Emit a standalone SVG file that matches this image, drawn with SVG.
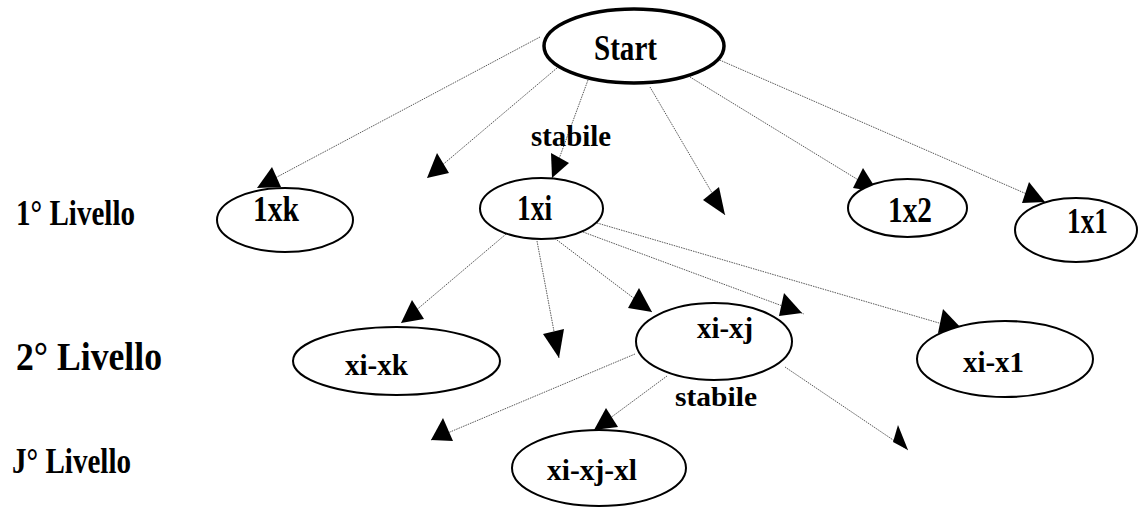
<svg xmlns="http://www.w3.org/2000/svg" width="1138" height="510" viewBox="0 0 1138 510" font-family="'Liberation Serif', 'Times New Roman', Times, serif">
<style>
.node{fill:#fff;stroke:#000;stroke-width:2}
.start{fill:#fff;stroke:#000;stroke-width:3.5}
.edge{stroke:#444;stroke-width:0.9;stroke-dasharray:1.5 1;fill:none}
.ah{fill:#000;stroke:none}
text{font-weight:bold;fill:#000}
.lbl{font-size:35px}
.lbl2{font-size:29px}
</style>
<rect width="1138" height="510" fill="#fff"/>
<g id="connectors">
<line class="edge" x1="540" y1="37" x2="262" y2="185"/>
<line class="edge" x1="557" y1="68" x2="427" y2="178"/>
<line class="edge" x1="588" y1="80" x2="552" y2="178"/>
<line class="edge" x1="650" y1="87" x2="725" y2="215"/>
<line class="edge" x1="690" y1="77" x2="878" y2="192"/>
<line class="edge" x1="715" y1="58" x2="1045" y2="202"/>
<line class="edge" x1="512" y1="229" x2="401" y2="323"/>
<line class="edge" x1="537" y1="241" x2="559" y2="358"/>
<line class="edge" x1="553" y1="237" x2="652" y2="312"/>
<line class="edge" x1="583" y1="232" x2="804" y2="314"/>
<line class="edge" x1="597" y1="223" x2="963" y2="330"/>
<line class="edge" x1="635" y1="354" x2="431" y2="440"/>
<line class="edge" x1="667" y1="376" x2="594" y2="430"/>
<line class="edge" x1="785" y1="367" x2="908" y2="450"/>
<polygon class="ah" points="257,188 272,167 281,187"/>
<polygon class="ah" points="427,178 437,153 449,173"/>
<polygon class="ah" points="552,178 551,153 569,163"/>
<polygon class="ah" points="725,215 703,200 719,187"/>
<polygon class="ah" points="878,192 853,188 863,168"/>
<polygon class="ah" points="1045,202 1022,203 1029,182"/>
<polygon class="ah" points="401,323 412,300 424,319"/>
<polygon class="ah" points="559,358 543,334 564,329"/>
<polygon class="ah" points="652,312 628,308 639,288"/>
<polygon class="ah" points="779,316 784,293 802,313"/>
<polygon class="ah" points="963,330 938,333 943,309"/>
<polygon class="ah" points="431,440 443,418 453,441"/>
<polygon class="ah" points="594,430 606,408 618,427"/>
<polygon class="ah" points="908,450 893,442 898,425"/>
<text font-size="30" x="531" y="146" textLength="80" lengthAdjust="spacingAndGlyphs">stabile</text>
<text font-size="28" x="675" y="406" textLength="82" lengthAdjust="spacingAndGlyphs">stabile</text>
</g>
<g id="levels">
<text class="lbl" x="16" y="225" textLength="119" lengthAdjust="spacingAndGlyphs">1° Livello</text>
<text font-size="40" x="16" y="370" textLength="146" lengthAdjust="spacingAndGlyphs">2° Livello</text>
<text class="lbl" x="12" y="473" textLength="119" lengthAdjust="spacingAndGlyphs">J° Livello</text>
</g>
<g id="n-start">
<ellipse class="start" cx="634" cy="46" rx="90" ry="37"/>
<text class="lbl" x="594" y="60" textLength="63" lengthAdjust="spacingAndGlyphs">Start</text>
</g>
<g id="n-1xk">
<ellipse class="node" cx="285" cy="220" rx="68" ry="32"/>
<text class="lbl" x="253" y="221" textLength="46" lengthAdjust="spacingAndGlyphs">1xk</text>
</g>
<g id="n-1xi">
<ellipse class="node" cx="541.5" cy="208.5" rx="61.5" ry="30.5"/>
<text class="lbl" x="517" y="220" textLength="35" lengthAdjust="spacingAndGlyphs">1xi</text>
</g>
<g id="n-1x2">
<ellipse class="node" cx="907.5" cy="208" rx="59.5" ry="29"/>
<text class="lbl" x="888" y="222" textLength="44" lengthAdjust="spacingAndGlyphs">1x2</text>
</g>
<g id="n-1x1">
<ellipse class="node" cx="1076" cy="230" rx="61" ry="32"/>
<text class="lbl" x="1067" y="233" textLength="41" lengthAdjust="spacingAndGlyphs">1x1</text>
</g>
<g id="n-xi-xk">
<ellipse class="node" cx="396.5" cy="361" rx="103.5" ry="34"/>
<text class="lbl2" x="345" y="375" textLength="63" lengthAdjust="spacingAndGlyphs">xi-xk</text>
</g>
<g id="n-xi-xj">
<ellipse class="node" cx="714" cy="341.5" rx="78" ry="38.5"/>
<text class="lbl2" x="697" y="338" textLength="56" lengthAdjust="spacingAndGlyphs">xi-xj</text>
</g>
<g id="n-xi-x1">
<ellipse class="node" cx="1005" cy="359" rx="88" ry="38"/>
<text class="lbl2" x="963" y="372" textLength="61" lengthAdjust="spacingAndGlyphs">xi-x1</text>
</g>
<g id="n-xi-xj-xl">
<ellipse class="node" cx="599" cy="468" rx="87" ry="38"/>
<text class="lbl2" x="547" y="480" textLength="90" lengthAdjust="spacingAndGlyphs">xi-xj-xl</text>
</g>
</svg>
